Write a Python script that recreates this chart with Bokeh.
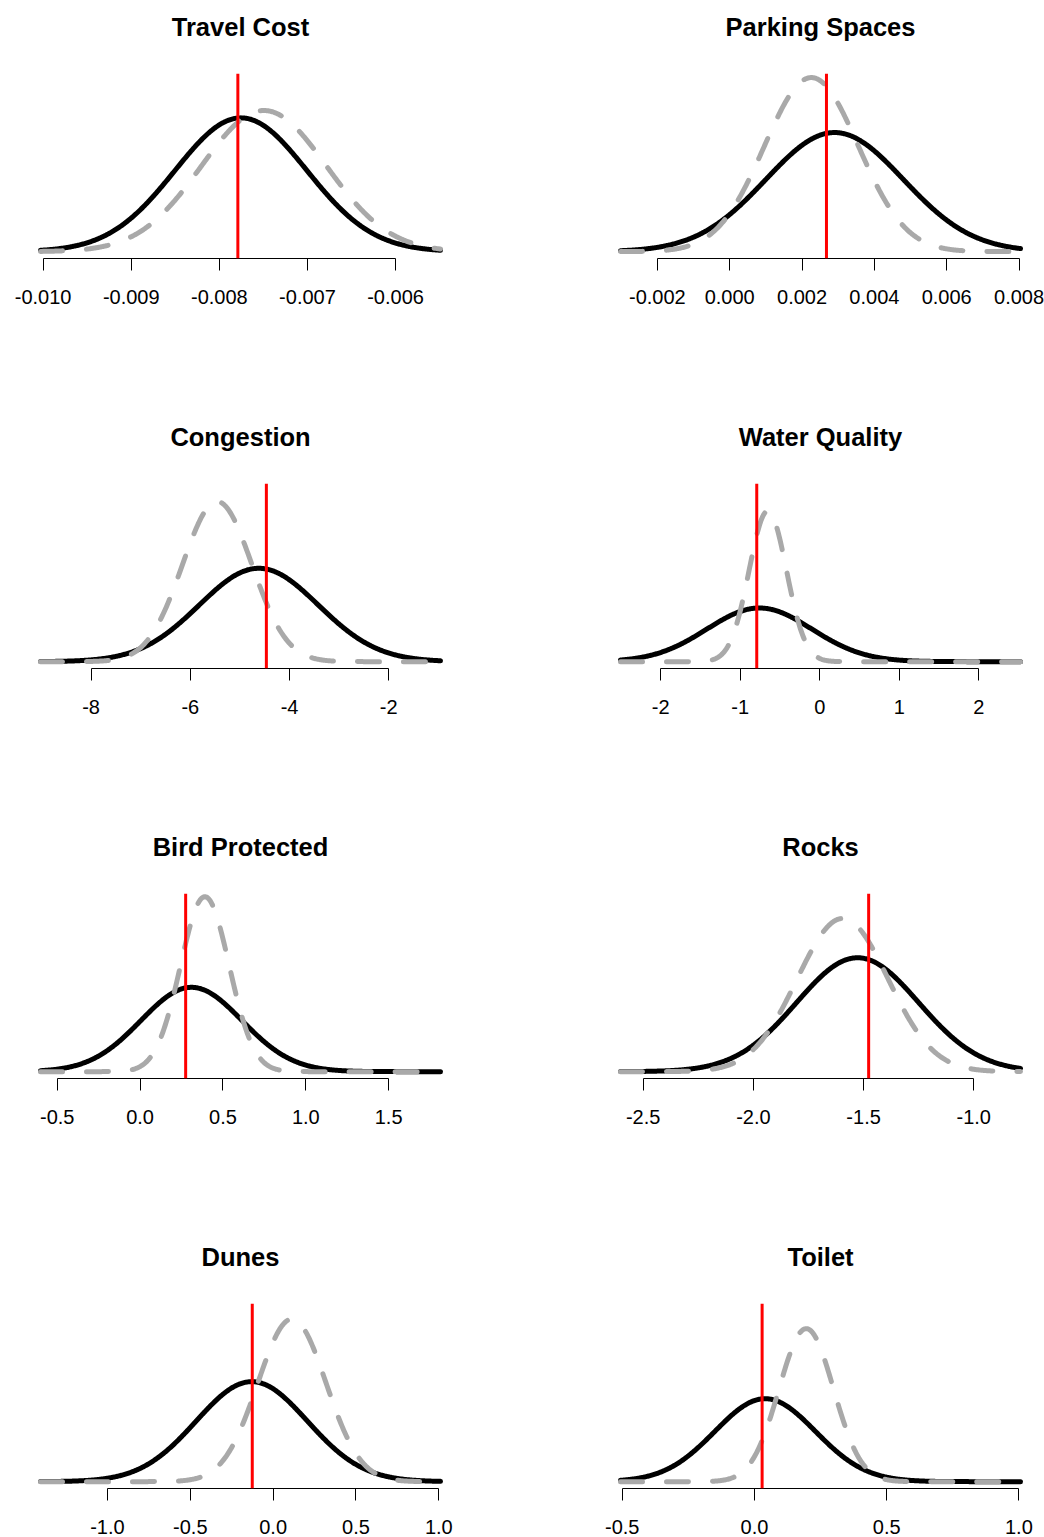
import numpy as np
from bokeh.plotting import figure
from bokeh.layouts import gridplot
from bokeh.models import FixedTicker, Span, Range1d, Title
from bokeh.embed import file_html
from bokeh.resources import INLINE

# ---------------- data ----------------
titles = ["Travel Cost", "Parking Spaces", "Congestion", "Water Quality",
          "Bird Protected", "Rocks", "Dunes", "Toilet"]

# domain over which both density curves are drawn
x_lo = [-0.01003, -0.00302, -9.02, -2.505, -0.601, -2.603, -1.404, -0.5065]
x_hi = [-0.00549, 0.00804, -0.957, 2.524, 1.813, -0.788, 1.010, 1.006]

# black solid density (mean, sd)
black_mean = [-0.007755, 0.00290, -4.62, -0.759, 0.310, -1.527, -0.129, 0.0405]
black_sd = [0.000749, 0.00190, 1.20, 0.66, 0.305, 0.277, 0.335, 0.19]

# grey dashed density (mean, sd)
grey_mean = [-0.007494, 0.002258, -5.458, -0.653, 0.391, -1.595, 0.1135, 0.196]
grey_sd = [0.00071, 0.00130, 0.70, 0.235, 0.147, 0.206, 0.206, 0.103]

# red vertical reference line
red_value = [-0.00779, 0.002675, -4.467, -0.792, 0.275, -1.477, -0.126, 0.029]

# upper y limit of each panel (density units)
y_max = [682, 302, 0.61, 1.93, 2.657, 2.166, 2.04, 4.336]

tick_values = [
    [-0.010, -0.009, -0.008, -0.007, -0.006],
    [-0.002, 0.000, 0.002, 0.004, 0.006, 0.008],
    [-8, -6, -4, -2],
    [-2, -1, 0, 1, 2],
    [-0.5, 0.0, 0.5, 1.0, 1.5],
    [-2.5, -2.0, -1.5, -1.0],
    [-1.0, -0.5, 0.0, 0.5, 1.0],
    [-0.5, 0.0, 0.5, 1.0],
]
tick_labels = [
    ["-0.010", "-0.009", "-0.008", "-0.007", "-0.006"],
    ["-0.002", "0.000", "0.002", "0.004", "0.006", "0.008"],
    ["-8", "-6", "-4", "-2"],
    ["-2", "-1", "0", "1", "2"],
    ["-0.5", "0.0", "0.5", "1.0", "1.5"],
    ["-2.5", "-2.0", "-1.5", "-1.0"],
    ["-1.0", "-0.5", "0.0", "0.5", "1.0"],
    ["-0.5", "0.0", "0.5", "1.0"],
]
# -------------------------------------------------------------

FONT = "Liberation Sans"
FRAME_W, FRAME_H = 432, 185
TOP = 73


def density(x, m, s):
    return np.exp(-0.5 * ((x - m) / s) ** 2) / (s * np.sqrt(2 * np.pi))


figs = []
for i in range(8):
    col = i % 2
    row = i // 2
    height = 410 if row < 3 else 307
    left_b, right_b = (24, 66) if col == 0 else (82, 8)
    bottom_b = height - TOP - FRAME_H

    w = x_hi[i] - x_lo[i]
    xr = Range1d(x_lo[i] - 0.04 * w, x_hi[i] + 0.04 * w)
    yr = Range1d(-0.04 * y_max[i], 1.04 * y_max[i])

    p = figure(width=522, height=height, x_range=xr, y_range=yr,
               output_backend="svg", toolbar_location=None,
               y_axis_location=None,
               min_border_left=left_b, min_border_right=right_b,
               min_border_top=TOP, min_border_bottom=bottom_b,
               title=titles[i])
    p.outline_line_color = None
    p.xgrid.visible = False
    p.ygrid.visible = False
    p.background_fill_color = "white"
    p.border_fill_color = "white"

    p.title.text_font = FONT
    p.title.text_font_size = "25.5px"
    p.title.text_font_style = "bold"
    p.title.text_color = "black"
    p.title.align = "center"
    p.title.standoff = 14

    # empty spacer between the title and the plot region
    p.add_layout(Title(text=" ", text_font_size="10px", standoff=13), "above")

    ax = p.xaxis[0]
    ax.ticker = FixedTicker(ticks=tick_values[i])
    ax.major_label_overrides = {v: s for v, s in zip(tick_values[i], tick_labels[i])}
    ax.bounds = (tick_values[i][0], tick_values[i][-1])
    ax.axis_line_color = "black"
    ax.axis_line_width = 1
    ax.major_tick_line_color = "black"
    ax.major_tick_line_width = 1
    ax.major_tick_out = 12
    ax.major_tick_in = 0
    ax.minor_tick_line_color = None
    ax.major_label_text_font = FONT
    ax.major_label_text_font_size = "20px"
    ax.major_label_text_color = "black"
    ax.major_label_standoff = 19

    xs = np.linspace(x_lo[i], x_hi[i], 500)
    p.line(xs, density(xs, black_mean[i], black_sd[i]),
           line_color="black", line_width=5, line_join="round", line_cap="round")
    p.line(xs, density(xs, grey_mean[i], grey_sd[i]),
           line_color="#a9a9a9", line_width=5, line_dash="22 24",
           line_join="round", line_cap="round")
    p.add_layout(Span(location=red_value[i], dimension="height",
                      line_color="red", line_width=3))
    figs.append(p)

grid = gridplot([[figs[0], figs[1]], [figs[2], figs[3]],
                 [figs[4], figs[5]], [figs[6], figs[7]]],
                toolbar_location=None)

open("out.html", "w").write(file_html(grid, INLINE))
